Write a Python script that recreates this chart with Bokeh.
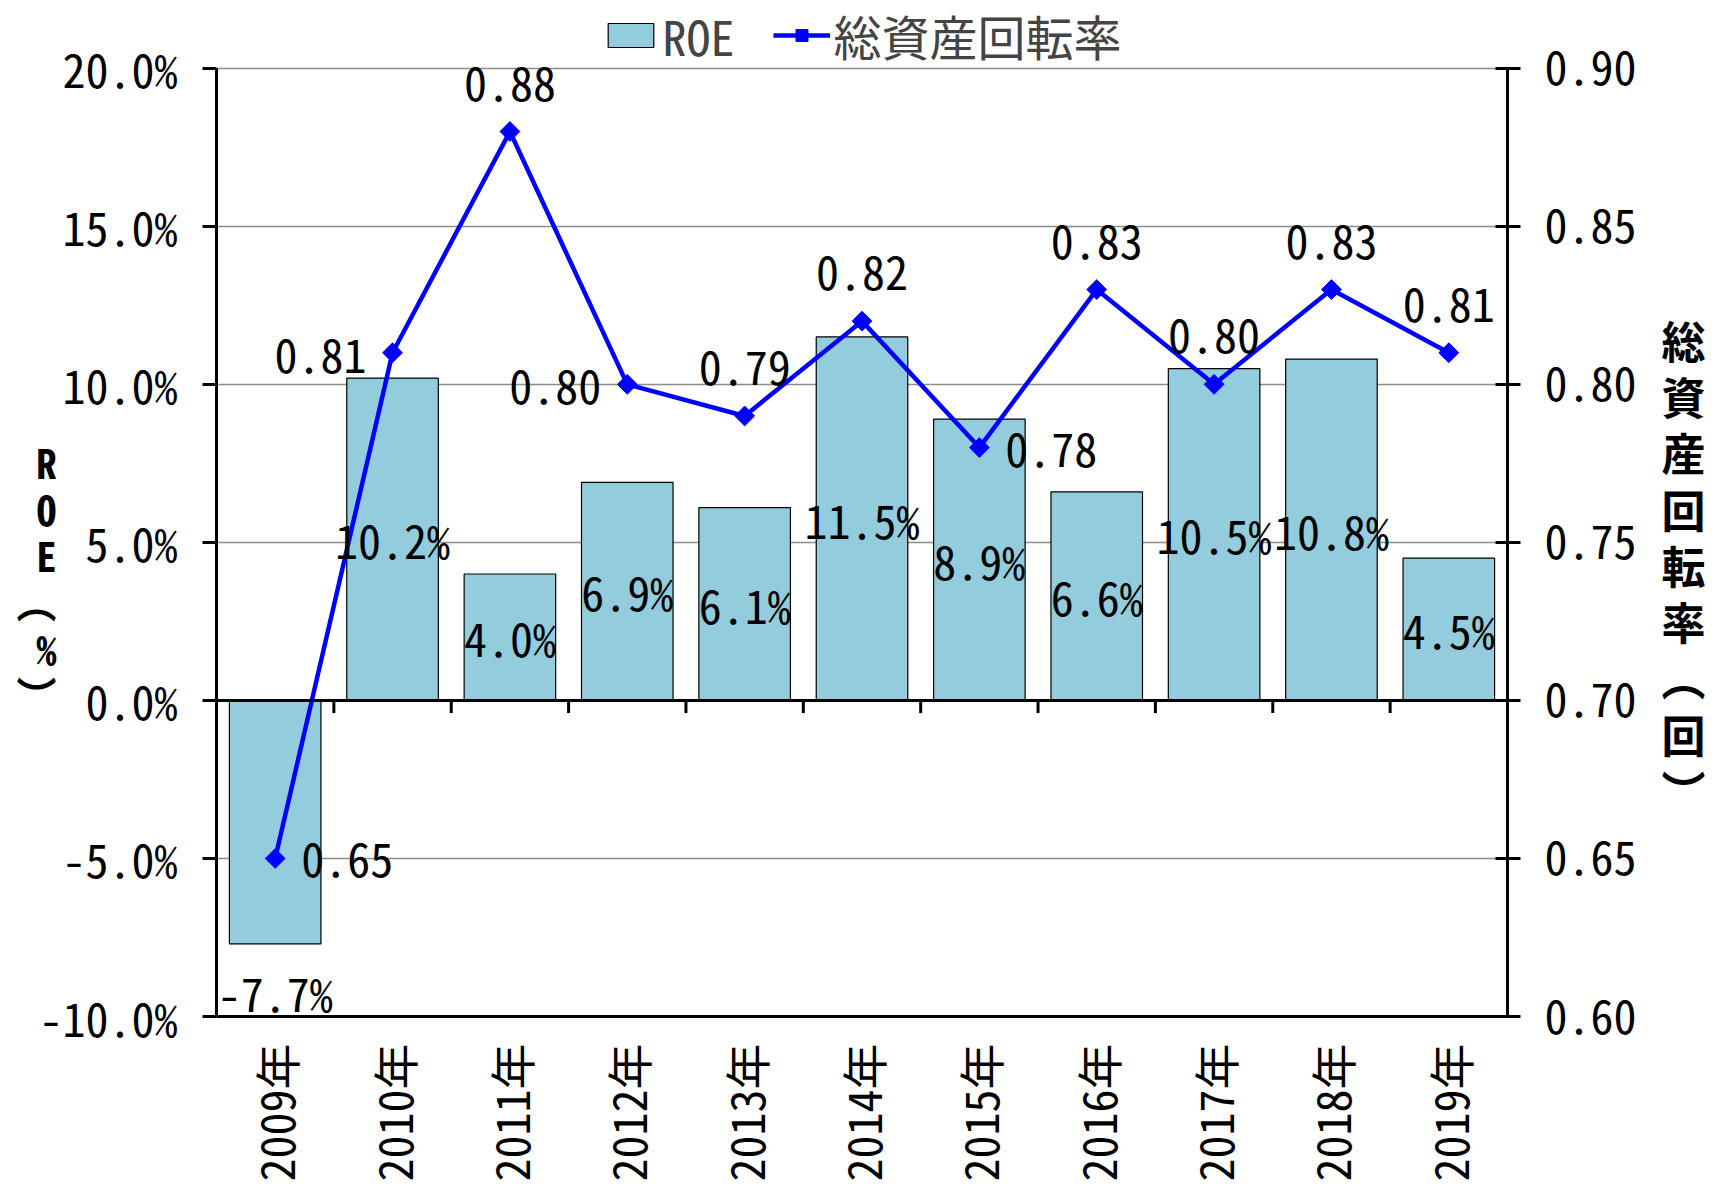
import math
import numpy as np
from bokeh.plotting import figure
from bokeh.models import (Range1d, LinearAxis, FixedTicker, PrintfTickFormatter,
                          NumeralTickFormatter, ColumnDataSource, Legend, LegendItem,
                          Span, FactorRange, LabelSet)
from bokeh.transform import dodge
from bokeh.core.properties import value
from bokeh.embed import file_html
from bokeh.resources import INLINE

# ---- data ----
years = ["2009年", "2010年", "2011年", "2012年", "2013年", "2014年",
         "2015年", "2016年", "2017年", "2018年", "2019年"]
roe = [-7.7, 10.2, 4.0, 6.9, 6.1, 11.5, 8.9, 6.6, 10.5, 10.8, 4.5]
turnover = [0.65, 0.81, 0.88, 0.80, 0.79, 0.82, 0.78, 0.83, 0.80, 0.83, 0.81]
roe_ticks = [-10, -5, 0, 5, 10, 15, 20]
turnover_ticks = [0.60, 0.65, 0.70, 0.75, 0.80, 0.85, 0.90]
turnover_label_side = ["right", "left", "above", "left", "above", "above",
                       "right", "above", "above", "above", "above"]

FONT = "Noto Sans Mono CJK JP"
FS = "46px"
BAR_COLOR = "#93CDDD"
LINE_COLOR = "#0000FF"

# ---- layout (pixels) ----
W, H = 1708, 1184
BORDER_L, BORDER_R, BORDER_B = 216, 198, 165
AXIS_TOP_PX = 68          # space between canvas top and the 20% line (legend lives here)
PLOT_PX = H - BORDER_B - AXIS_TOP_PX   # pixel height of the -10%..20% span

roe_lo, roe_hi = roe_ticks[0], roe_ticks[-1]
to_lo, to_hi = turnover_ticks[0], turnover_ticks[-1]
extra = (roe_hi - roe_lo) * AXIS_TOP_PX / PLOT_PX
roe_top = roe_hi + extra
to_top = to_hi + extra * (to_hi - to_lo) / (roe_hi - roe_lo)

side_dx = {"right": 72, "left": -72, "above": 0}
side_dy = {"right": -2, "left": -3, "above": 48}
src = ColumnDataSource(dict(
    years=years,
    roe=roe,
    turnover=turnover,
    roe_text=[f"{v:.1f}%" for v in roe],
    roe_label_y=[v / 2 if v >= 0 else v for v in roe],
    roe_label_dy=[0 if v >= 0 else -48 for v in roe],
    to_text=[f"{v:.2f}" for v in turnover],
    to_dx=[side_dx[s] for s in turnover_label_side],
    to_dy=[side_dy[s] for s in turnover_label_side],
    zero=[0] * len(years),
    tick_end=[-0.4] * len(years),
))

p = figure(width=W, height=H, x_range=FactorRange(factors=years),
           y_range=Range1d(roe_lo, roe_top), output_backend="svg",
           toolbar_location=None,
           min_border_left=BORDER_L, min_border_right=BORDER_R, min_border_top=0,
           min_border_bottom=BORDER_B)
p.outline_line_color = None
p.extra_y_ranges = {"right": Range1d(to_lo, to_top)}

p.xgrid.grid_line_color = None
p.ygrid.grid_line_color = "#8C8C8C"
p.ygrid.grid_line_width = 1.5
p.ygrid.ticker = FixedTicker(ticks=roe_ticks)

bars = p.vbar(x="years", top="roe", bottom=0, width=0.78, source=src,
              fill_color=BAR_COLOR, line_color="black", line_width=1.2)

p.add_layout(Span(location=0, dimension="width", line_color="black", line_width=3))
p.segment(x0=dodge("years", 0.5, range=p.x_range), y0="zero",
          x1=dodge("years", 0.5, range=p.x_range), y1="tick_end",
          source=src, line_color="black", line_width=3)

line_r = p.line(x="years", y="turnover", source=src, y_range_name="right",
                line_color=LINE_COLOR, line_width=4.5)
pts_r = p.scatter(x="years", y="turnover", source=src, y_range_name="right",
                  marker="square", angle=math.pi / 4, size=14,
                  fill_color=LINE_COLOR, line_color=LINE_COLOR)

p.add_layout(LabelSet(x="years", y="roe_label_y", text="roe_text", source=src,
                      y_offset="roe_label_dy", text_align="center",
                      text_baseline="middle", text_font=value(FONT),
                      text_font_size=FS, text_color="black"))
p.add_layout(LabelSet(x="years", y="turnover", text="to_text", source=src,
                      y_range_name="right", x_offset="to_dx", y_offset="to_dy",
                      text_align="center", text_baseline="middle",
                      text_font=value(FONT), text_font_size=FS, text_color="black"))

ya = p.yaxis[0]
ya.bounds = (roe_lo, roe_hi)
ya.ticker = FixedTicker(ticks=roe_ticks)
ya.formatter = PrintfTickFormatter(format="%.1f%%")
ya.axis_line_color = "black"
ya.axis_line_width = 3
ya.major_tick_line_width = 3
ya.major_tick_out = 14
ya.major_tick_in = 0
ya.minor_tick_line_color = None
ya.major_label_standoff = 25
ya.major_label_text_font = FONT
ya.major_label_text_font_size = FS
ya.major_label_text_color = "black"
ya.axis_label = " \n \n \nR\nO\nE\n︵\n%\n︶"
ya.axis_label_orientation = "horizontal"
ya.axis_label_text_font = FONT
ya.axis_label_text_font_size = "40px"
ya.axis_label_text_font_style = "bold"
ya.axis_label_text_line_height = 0.80
ya.axis_label_text_color = "black"
ya.axis_label_standoff = -20

ra = LinearAxis(y_range_name="right", ticker=FixedTicker(ticks=turnover_ticks),
                formatter=NumeralTickFormatter(format="0.00"),
                bounds=(to_lo, to_hi))
ra.axis_line_color = "black"
ra.axis_line_width = 3
ra.major_tick_line_width = 3
ra.major_tick_out = 13
ra.major_tick_in = 12
ra.minor_tick_line_color = None
ra.major_label_standoff = 24
ra.major_label_text_font = FONT
ra.major_label_text_font_size = FS
ra.major_label_text_color = "black"
ra.axis_label = " \n \n総\n資\n産\n回\n転\n率\n︵\n回\n︶"
ra.axis_label_orientation = "horizontal"
ra.axis_label_text_font = "Noto Sans CJK JP"
ra.axis_label_text_font_size = "44px"
ra.axis_label_text_font_style = "bold"
ra.axis_label_text_line_height = 0.88
ra.axis_label_text_color = "black"
ra.axis_label_standoff = 22
p.add_layout(ra, "right")

xa = p.xaxis[0]
xa.axis_line_color = "black"
xa.axis_line_width = 3
xa.major_tick_line_color = None
xa.major_tick_out = 0
xa.major_label_orientation = math.pi / 2
xa.major_label_standoff = 27
xa.major_label_text_font = FONT
xa.major_label_text_font_size = FS
xa.major_label_text_color = "black"

legend = Legend(items=[LegendItem(label="ROE", renderers=[bars]),
                       LegendItem(label="総資産回転率", renderers=[line_r, pts_r])],
                orientation="horizontal", location="top_center",
                label_text_font=FONT, label_text_font_size="48px",
                glyph_width=57, glyph_height=30, spacing=38, label_standoff=4,
                padding=0, margin=0, border_line_color=None,
                background_fill_alpha=0)
p.add_layout(legend)

open("out.html", "w").write(file_html(p, INLINE))
